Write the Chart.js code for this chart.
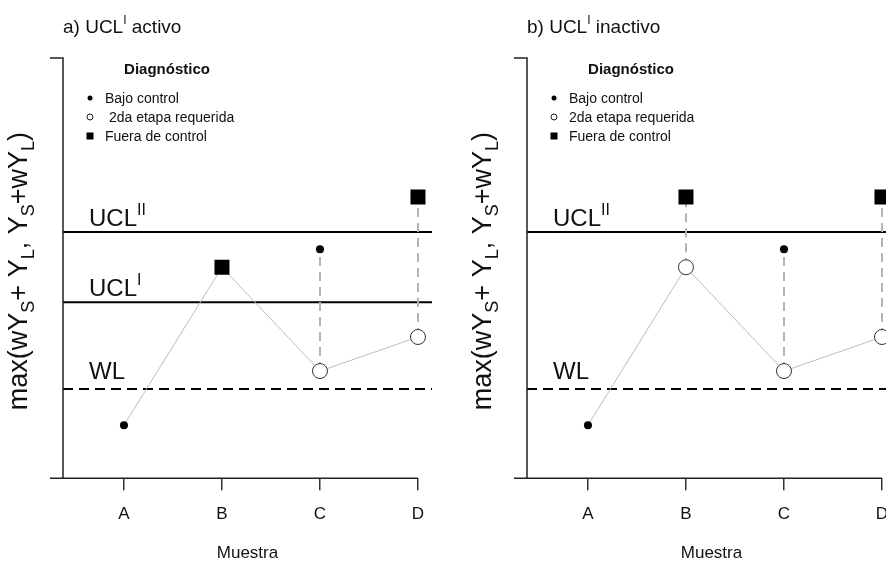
<!DOCTYPE html>
<html>
<head>
<meta charset="utf-8">
<script src="https://cdn.jsdelivr.net/npm/chart.js@4"></script>
<style>
  body { margin: 0; width: 886px; height: 566px; overflow: hidden; position: relative; background: #fff; }
  canvas { position: absolute; top: 0; }
</style>
</head>
<body>
<canvas id="panelA" width="443" height="566" style="left:0"></canvas>
<canvas id="panelB" width="443" height="566" style="left:464px"></canvas>
<script>
const muestras = ['A', 'B', 'C', 'D'];
const estadistico = [1.26, 5.02, 2.55, 3.36];
const WL = 2.12;
const UCL1 = 4.19;
const UCL2 = 5.86;

// a) UCL^I activo
const diagA = ['bajo', 'fuera', 'segunda', 'segunda'];
const segundaA = [null, null, 5.45, 6.69];
const diagSegundaA = [null, null, 'bajo', 'fuera'];

// b) UCL^I inactivo
const diagB = ['bajo', 'segunda', 'segunda', 'segunda'];
const segundaB = [null, 6.69, 5.45, 6.69];
const diagSegundaB = [null, 'fuera', 'bajo', 'fuera'];

const leyenda = ['Bajo control', '2da etapa requerida', 'Fuera de control'];
const xRange = [-0.622, 3.143];
const yRange = [0, 10];

const FONT = 'Arial, "Liberation Sans", Helvetica, sans-serif';
Chart.defaults.font.family = FONT;
Chart.defaults.color = '#111';

const estilos = {
  bajo: { pointStyle: 'circle', pointRadius: 4, pointBackgroundColor: '#000', pointBorderColor: '#000', pointBorderWidth: 0 },
  segunda: { pointStyle: 'circle', pointRadius: 7.5, pointBackgroundColor: '#fff', pointBorderColor: '#333', pointBorderWidth: 1 },
  fuera: { pointStyle: 'rect', pointRadius: 10.6, pointBackgroundColor: '#000', pointBorderColor: '#000', pointBorderWidth: 0 }
};

function textoRico(ctx, x, y, partes, centrado) {
  let ancho = 0;
  partes.forEach(p => { ctx.font = (p.bold ? 'bold ' : '') + p.size + 'px ' + FONT; ancho += ctx.measureText(p.t).width; });
  let cx = centrado ? x - ancho / 2 : x;
  partes.forEach(p => {
    ctx.font = (p.bold ? 'bold ' : '') + p.size + 'px ' + FONT;
    ctx.fillText(p.t, cx, y + (p.dy || 0));
    cx += ctx.measureText(p.t).width;
  });
}

const ylabel = [
  { t: 'max(wY', size: 27 }, { t: 'S', size: 18, dy: 7 }, { t: '+ Y', size: 27 }, { t: 'L', size: 18, dy: 7 },
  { t: ', Y', size: 27 }, { t: 'S', size: 18, dy: 7 }, { t: '+wY', size: 27 }, { t: 'L', size: 18, dy: 7 }, { t: ')', size: 27 }
];

const decoracion = {
  id: 'decoracion',
  afterDraw(chart, args, o) {
    const { ctx, chartArea: a, scales: { x, y } } = chart;
    ctx.save();
    ctx.strokeStyle = '#222';
    ctx.lineWidth = 1.5;
    ctx.beginPath();
    ctx.moveTo(a.left - 13, a.top); ctx.lineTo(a.left, a.top); ctx.lineTo(a.left, a.bottom);
    ctx.moveTo(a.left - 13, a.bottom); ctx.lineTo(x.getPixelForValue(muestras.length - 1), a.bottom);
    ctx.stroke();

    ctx.fillStyle = '#111';
    ctx.textBaseline = 'alphabetic';
    // title
    textoRico(ctx, a.left, 33, o.titulo, false);
    // y label
    ctx.save();
    ctx.translate(a.left - 36, (a.top + a.bottom) / 2 + 3);
    ctx.rotate(-Math.PI / 2);
    textoRico(ctx, 0, 0, ylabel, true);
    ctx.restore();
    // limit labels
    o.etiquetas.forEach(e => textoRico(ctx, a.left + 26, y.getPixelForValue(e.valor) + e.dy, e.partes, false));
    // legend
    ctx.textAlign = 'left';
    textoRico(ctx, a.left + 104, 74, [{ t: 'Diagnóstico', size: 15, bold: true }], true);
    const ys = [103, 122, 141];
    ctx.font = '14px ' + FONT;
    leyenda.forEach((t, i) => {
      const sx = a.left + 27, sy = ys[i] - 5;
      ctx.fillStyle = '#000';
      ctx.beginPath();
      if (i === 0) { ctx.arc(sx, sy, 2.5, 0, Math.PI * 2); ctx.fill(); }
      if (i === 1) { ctx.lineWidth = 1; ctx.strokeStyle = '#222'; ctx.arc(sx, sy, 3, 0, Math.PI * 2); ctx.stroke(); }
      if (i === 2) { ctx.fillRect(sx - 3.5, sy - 3.5, 7, 7); }
      ctx.fillStyle = '#111';
      ctx.fillText((i === 1 && o.espacio ? ' ' : '') + t, a.left + 42, ys[i]);
    });
    ctx.restore();
  }
};

function panel(id, diag, segunda, diagSegunda, limites, titulo, etiquetas, espacio) {
  const puntos = { bajo: [], segunda: [], fuera: [] };
  estadistico.forEach((v, i) => puntos[diag[i]].push({ x: i, y: v }));
  segunda.forEach((v, i) => { if (v !== null) puntos[diagSegunda[i]].push({ x: i, y: v }); });

  const datasets = [];
  ['fuera', 'bajo', 'segunda'].forEach(k => datasets.push(Object.assign({ data: puntos[k], showLine: false, order: 1 }, estilos[k])));
  datasets.push({
    data: estadistico.map((v, i) => ({ x: i, y: v })), showLine: true,
    borderColor: '#bdbdbd', borderWidth: 1, pointRadius: 0, order: 3
  });
  segunda.forEach((v, i) => {
    if (v === null) return;
    datasets.push({
      data: [{ x: i, y: estadistico[i] }, { x: i, y: v }], showLine: true,
      borderColor: '#b3b3b3', borderWidth: 2, borderDash: [9, 6], pointRadius: 0, order: 4
    });
  });
  limites.forEach(l => datasets.push({
    data: [{ x: xRange[0], y: l.valor }, { x: xRange[1], y: l.valor }], showLine: true,
    borderColor: '#000', borderWidth: 2, borderDash: l.dash || [], pointRadius: 0, order: 5
  }));

  return new Chart(document.getElementById(id), {
    type: 'scatter',
    data: { datasets },
    options: {
      responsive: false,
      animation: false,
      devicePixelRatio: 1,
      layout: { padding: { left: 63, right: 11, top: 58, bottom: 2 } },
      plugins: { legend: { display: false }, tooltip: { enabled: false }, decoracion: { titulo, etiquetas, espacio } },
      scales: {
        x: {
          type: 'linear', min: xRange[0], max: xRange[1],
          afterBuildTicks: s => { s.ticks = muestras.map((m, i) => ({ value: i })); },
          ticks: { callback: v => muestras[v], font: { size: 17 }, padding: 14, color: '#111', maxRotation: 0 },
          grid: { drawOnChartArea: false, drawTicks: true, tickLength: 12, color: '#333', lineWidth: 1.5 },
          border: { display: false },
          title: { display: true, text: 'Muestra', font: { size: 17 }, color: '#111', padding: { top: 5, bottom: 0 } }
        },
        y: { type: 'linear', min: yRange[0], max: yRange[1], display: false }
      }
    },
    plugins: [decoracion]
  });
}

panel('panelA', diagA, segundaA, diagSegundaA,
  [{ valor: UCL2 }, { valor: UCL1 }, { valor: WL, dash: [10, 6] }],
  [{ t: 'a) UCL', size: 19 }, { t: 'I', size: 12, dy: -9 }, { t: ' activo', size: 19 }],
  [
    { valor: UCL2, dy: -6, partes: [{ t: 'UCL', size: 24 }, { t: 'II', size: 16, dy: -11 }] },
    { valor: UCL1, dy: -6, partes: [{ t: 'UCL', size: 24 }, { t: 'I', size: 16, dy: -11 }] },
    { valor: WL, dy: -10, partes: [{ t: 'WL', size: 24 }] }
  ], true);

panel('panelB', diagB, segundaB, diagSegundaB,
  [{ valor: UCL2 }, { valor: WL, dash: [10, 6] }],
  [{ t: 'b) UCL', size: 19 }, { t: 'I', size: 12, dy: -9 }, { t: ' inactivo', size: 19 }],
  [
    { valor: UCL2, dy: -6, partes: [{ t: 'UCL', size: 24 }, { t: 'II', size: 16, dy: -11 }] },
    { valor: WL, dy: -10, partes: [{ t: 'WL', size: 24 }] }
  ], false);
</script>
</body>
</html>
